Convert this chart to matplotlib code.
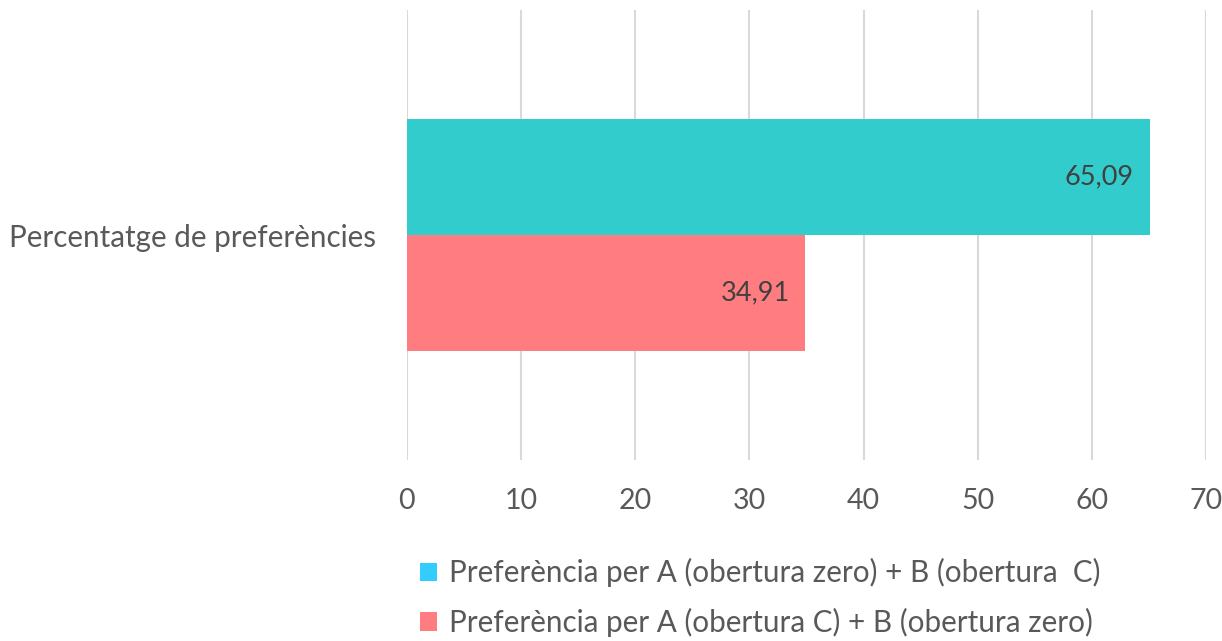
import matplotlib
matplotlib.use("Agg")
import matplotlib.pyplot as plt
from matplotlib.patches import Patch

plt.rcParams['font.family'] = ['Lato', 'DejaVu Sans']

category = "Percentatge de preferències"
series_names = ["Preferència per A (obertura zero) + B (obertura  C)",
                "Preferència per A (obertura C) + B (obertura zero)"]
values = [65.09, 34.91]
value_labels = ["65,09", "34,91"]
bar_colors = ["#33CCCC", "#FF7C80"]
legend_colors = ["#33CCFF", "#FF7C80"]
xticks = [0, 10, 20, 30, 40, 50, 60, 70]

fig = plt.figure(figsize=(12.22, 6.41), dpi=100)
ax = fig.add_axes([0.333, 0.2824, 0.654, 0.7016])

h = 0.258
offsets = [h / 2, -h / 2]
for v, lab, c, off in zip(values, value_labels, bar_colors, offsets):
    ax.barh(0 + off, v, height=h, color=c, zorder=2)
    ax.text(v - 1.4, off, lab, ha='right', va='center', fontsize=19.5, color='#404040', zorder=3)

ax.set_ylim(-0.5, 0.5)
ax.set_xlim(0, 70)
ax.set_xticks(xticks)
ax.set_xticklabels([str(t) for t in xticks])
ax.set_yticks([0])
ax.set_yticklabels([category])
ax.tick_params(axis='x', length=0, labelsize=20.5, labelcolor='#595959', pad=20)
ax.tick_params(axis='y', length=0, labelsize=21.3, labelcolor='#595959', pad=22)
ax.grid(axis='x', color='#D9D9D9', linewidth=1.5, zorder=0)
for s in ax.spines.values():
    s.set_visible(False)

handles = [Patch(facecolor=c, edgecolor='none') for c in legend_colors]
fig.legend(handles, series_names, loc='center', bbox_to_anchor=(0.622, 0.068),
           ncol=1, frameon=False, fontsize=21.3, labelcolor='#595959',
           handlelength=0.6, handleheight=0.6, handletextpad=0.4, labelspacing=0.68,
           borderpad=0.1)

fig.savefig("out.png", dpi=100)
